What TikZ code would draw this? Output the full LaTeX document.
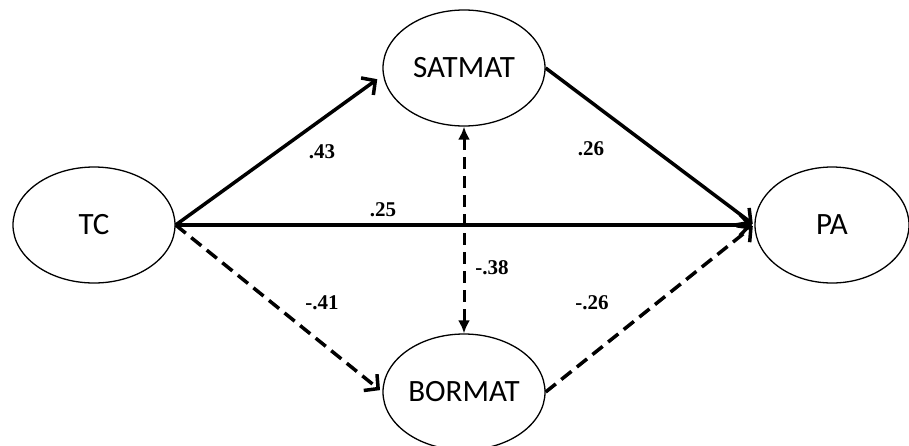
\documentclass[tikz,border=0pt]{standalone}
\usepackage{fontspec}
\setmainfont{Carlito}
\newfontfamily\coeffont{Liberation Serif}
\usetikzlibrary{arrows.meta,shapes.geometric}
\begin{document}
\begin{tikzpicture}[x=1pt,y=-1pt,
  var/.style={ellipse,draw,line width=1.3pt,minimum width=162pt,minimum height=116pt,
    inner sep=0pt,font=\fontsize{31}{31}\selectfont},
  effect/.style={line width=3.5pt,shorten >=2pt,
    -{Straight Barb[length=10pt,width=21pt,line width=3.5pt]}},
  negeffect/.style={effect,dash pattern=on 13pt off 7pt},
  corr/.style={line width=3pt,dash pattern=on 12pt off 7pt,
    {Latex[length=13pt,width=12pt]}-{Latex[length=13pt,width=12pt]}},
  coef/.style={font=\coeffont\bfseries\fontsize{21}{21}\selectfont}]
\useasboundingbox (0,0) rectangle (909,445);

% latent variables
\node[var] (tc) at (94,225) {TC};
\node[var] (sat) at (464,68) {SATMAT};
\node[var] (bor) at (464,392) {BORMAT};
\node[var,minimum width=154pt] (pa) at (832,225) {PA};

% paths
\draw[effect,shorten >=7pt] (tc.east) -- (sat.185);
\draw[effect] (tc.east) -- (pa.west);
\draw[negeffect,shorten >=3pt] (tc.east) -- (bor.west);
\draw[effect] (sat.east) -- (pa.west);
\draw[negeffect] (bor.east) -- (pa.west);
\draw[corr] (sat.south) -- (bor.north);

% path coefficients
\node[coef] (c1) at (322,152) {.43};
\node[coef] (c2) at (591,149) {.26};
\node[coef] (c3) at (383,210) {.25};
\node[coef] (c4) at (492,268) {-.38};
\node[coef] (c5) at (322,303) {-.41};
\node[coef] (c6) at (592,303) {-.26};
\end{tikzpicture}
\end{document}
